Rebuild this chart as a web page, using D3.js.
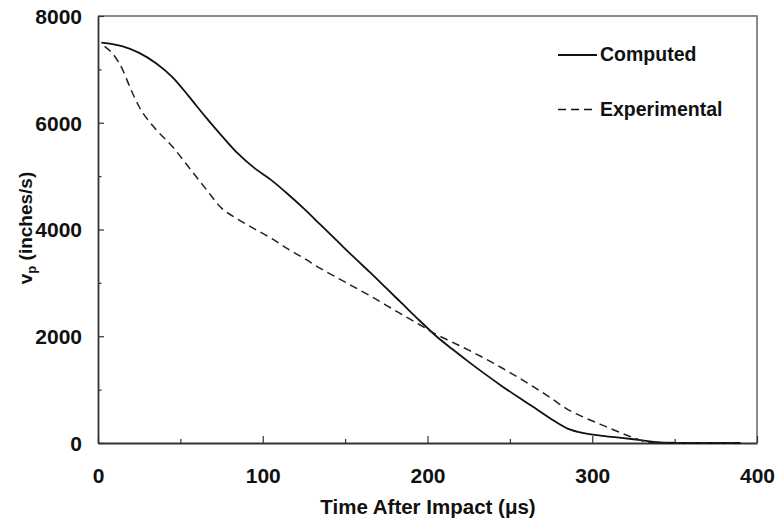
<!DOCTYPE html>
<html>
<head>
<meta charset="utf-8">
<script src="https://cdn.jsdelivr.net/npm/d3@7"></script>
<style>
  html, body { margin: 0; padding: 0; background: #fff; }
  #chart { width: 778px; height: 519px; }
  text { font-family: "Liberation Sans", Arial, sans-serif; font-weight: bold; fill: #111; }
</style>
</head>
<body>
<div id="chart"></div>
<script>
// ---- Data ----
const computedTime = [2, 15, 25, 35, 45, 55, 65, 75, 85, 95, 105, 115, 125, 135, 145, 155, 165, 175, 185, 195,
  205, 215, 225, 235, 245, 255, 265, 275, 285, 295, 305, 315, 325, 335, 345, 360, 390];
const computedVp = [7500, 7430, 7310, 7120, 6860, 6500, 6120, 5760, 5420, 5150, 4930, 4670, 4390, 4090, 3790, 3490,
  3200, 2900, 2600, 2300, 2010, 1760, 1520, 1290, 1070, 860, 660, 450, 270, 185, 140, 105, 70, 30, 5, 0, 0];

const experimentalTime = [4, 10, 15, 20, 25, 35, 45, 55, 65, 75, 85, 95, 105, 115, 125, 135, 145, 155, 165, 175,
  185, 195, 205, 215, 225, 235, 245, 255, 265, 275, 285, 295, 305, 315, 325, 335, 345, 390];
const experimentalVp = [7430, 7250, 6990, 6620, 6300, 5880, 5560, 5170, 4780, 4400, 4190, 4010, 3840, 3640, 3460,
  3270, 3100, 2930, 2760, 2580, 2400, 2220, 2040, 1890, 1740, 1580, 1410, 1230, 1040, 840, 630, 480, 350, 220,
  100, 10, 0, 0];

const xMajorTicks = [0, 100, 200, 300, 400];
const xMinorTicks = [50, 150, 250, 350];
const yMajorTicks = [0, 2000, 4000, 6000, 8000];
const yMinorTicks = [1000, 3000, 5000, 7000];

const seriesNames = ['Computed', 'Experimental'];

// ---- Layout ----
const W = 778, H = 519;
const margin = { top: 16, right: 21, bottom: 76, left: 98 };
const innerW = W - margin.left - margin.right;
const innerH = H - margin.top - margin.bottom;

const svg = d3.select('#chart').append('svg')
  .attr('width', W)
  .attr('height', H)
  .style('display', 'block');

const g = svg.append('g')
  .attr('transform', `translate(${margin.left},${margin.top})`);

// ---- Scales ----
const x = d3.scaleLinear().domain([0, 400]).range([0, innerW]);
const y = d3.scaleLinear().domain([0, 8000]).range([innerH, 0]);

// ---- Frame (top + right) ----
g.append('path')
  .attr('d', `M0,0H${innerW}V${innerH}`)
  .attr('fill', 'none')
  .attr('stroke', '#666')
  .attr('stroke-width', 1.5);

// ---- Axes ----
const xAxis = g.append('g')
  .attr('transform', `translate(0,${innerH})`)
  .call(d3.axisBottom(x).tickValues(xMajorTicks).tickSizeInner(-7).tickSizeOuter(0).tickPadding(25));
g.append('g')
  .attr('transform', `translate(0,${innerH})`)
  .call(d3.axisBottom(x).tickValues(xMinorTicks).tickSizeInner(-4).tickSizeOuter(0).tickFormat(''))
  .call(a => a.select('.domain').remove());

const yAxis = g.append('g')
  .call(d3.axisLeft(y).tickValues(yMajorTicks).tickFormat(d3.format('d'))
    .tickSizeInner(-6).tickSizeOuter(0).tickPadding(16));
g.append('g')
  .call(d3.axisLeft(y).tickValues(yMinorTicks).tickSizeInner(-3.5).tickSizeOuter(0).tickFormat(''))
  .call(a => a.select('.domain').remove());

[xAxis, yAxis].forEach(a => {
  a.selectAll('text')
    .style('font-size', '21px')
    .style('font-family', '"Liberation Sans", Arial, sans-serif')
    .style('font-weight', 'bold')
    .attr('fill', '#111');
});
yAxis.selectAll('text').attr('dy', '0.35em');
g.selectAll('.domain').attr('stroke', '#333').attr('stroke-width', 1.8);
g.selectAll('.tick line').attr('stroke', '#333').attr('stroke-width', 1.2);

// ---- Axis labels ----
svg.append('text')
  .attr('x', 428)
  .attr('y', 514)
  .attr('text-anchor', 'middle')
  .style('font-size', '20.5px')
  .text('Time After Impact (\u03bcs)');

const yl = svg.append('text')
  .attr('transform', 'translate(32,228) rotate(-90)')
  .attr('text-anchor', 'middle')
  .style('font-size', '19px');
yl.append('tspan').text('v');
yl.append('tspan').attr('dy', 4).style('font-size', '13px').text('p');
yl.append('tspan').attr('dy', -4).text(' (inches/s)');

// ---- Lines ----
const line = d3.line()
  .x(d => x(d[0]))
  .y(d => y(d[1]))
  .curve(d3.curveMonotoneX);

const computed = computedTime.map((t, i) => [t, computedVp[i]]);
const experimental = experimentalTime.map((t, i) => [t, experimentalVp[i]]);

g.append('path')
  .datum(computed)
  .attr('d', line)
  .attr('fill', 'none')
  .attr('stroke', '#111')
  .attr('stroke-width', 1.8);

g.append('path')
  .datum(experimental)
  .attr('d', line)
  .attr('fill', 'none')
  .attr('stroke', '#222')
  .attr('stroke-width', 1.5)
  .attr('stroke-dasharray', '8,5');

// ---- Legend ----
const legend = svg.append('g');
seriesNames.forEach((name, i) => {
  const ly = 55 + i * 54.5;
  legend.append('line')
    .attr('x1', 558).attr('x2', 597)
    .attr('y1', ly).attr('y2', ly)
    .attr('stroke', '#111')
    .attr('stroke-width', i === 0 ? 1.8 : 1.5)
    .attr('stroke-dasharray', i === 0 ? null : '8,5');
  legend.append('text')
    .attr('x', 600)
    .attr('y', ly + 6)
    .style('font-size', '19.5px')
    .text(name);
});
</script>
</body>
</html>
